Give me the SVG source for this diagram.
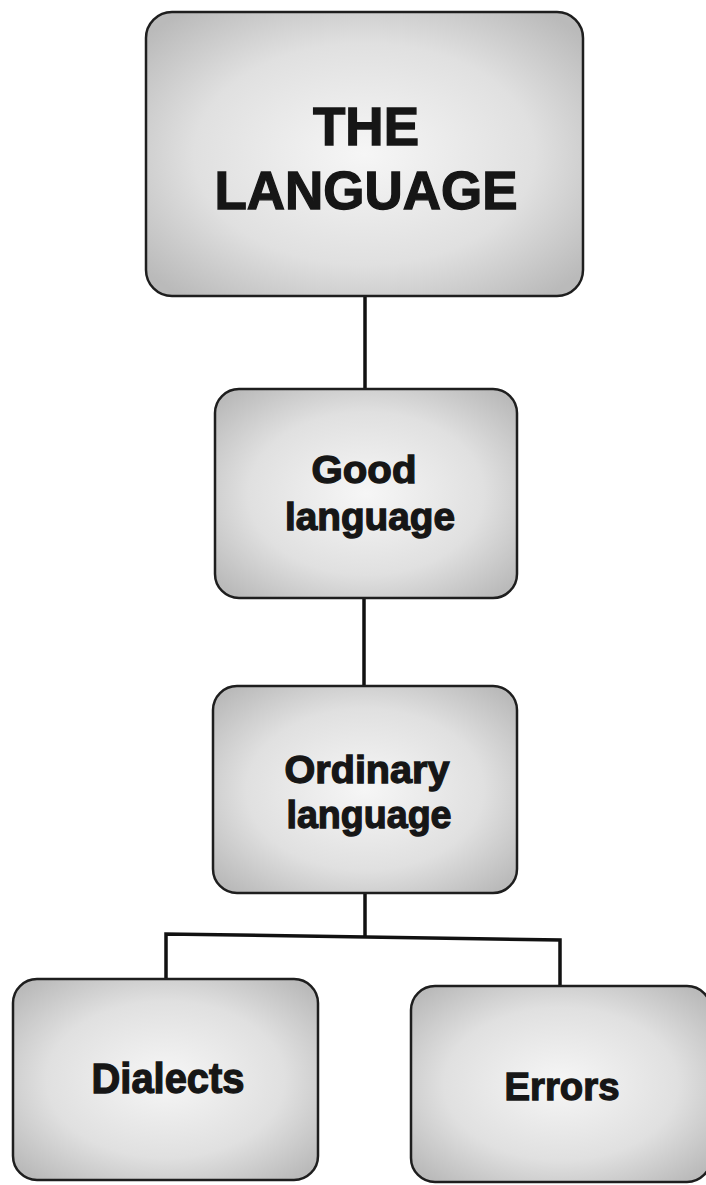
<svg xmlns="http://www.w3.org/2000/svg" width="706" height="1185" viewBox="0 0 706 1185">
<defs>
<radialGradient id="g" cx="50%" cy="50%" r="65%">
<stop offset="0" stop-color="#f6f6f6"/>
<stop offset="0.6" stop-color="#e0e0e0"/>
<stop offset="1" stop-color="#bababa"/>
</radialGradient>
<style>
.box{fill:url(#g);stroke:#1e1e1e;stroke-width:2.5}
.t{font-family:"Liberation Sans",Arial,sans-serif;font-weight:bold;fill:#161616;stroke:#161616;stroke-width:1.3;text-anchor:middle}
.c{fill:none;stroke:#111;stroke-width:3.5}
</style>
</defs>
<rect width="706" height="1185" fill="#fff"/>
<g id="connectors">
<line class="c" x1="365" y1="296" x2="365" y2="390"/>
<line class="c" x1="364" y1="598" x2="364" y2="687"/>
<polyline class="c" points="365,893 365,936"/>
<polyline class="c" points="166,980 166,934 560,940 560,987"/>
</g>
<g id="n-language">
<rect class="box" x="146" y="12" width="437" height="284" rx="26"/>
<text class="t" x="366" y="145" font-size="53">THE</text>
<text class="t" x="366" y="209" font-size="53" textLength="303" lengthAdjust="spacingAndGlyphs">LANGUAGE</text>
</g>
<g id="n-good">
<rect class="box" x="215" y="389" width="302" height="209" rx="24"/>
<text class="t" x="364" y="483" font-size="39" textLength="105" lengthAdjust="spacingAndGlyphs">Good</text>
<text class="t" x="370" y="530" font-size="39" textLength="170" lengthAdjust="spacingAndGlyphs">language</text>
</g>
<g id="n-ordinary">
<rect class="box" x="213" y="686" width="304" height="207" rx="24"/>
<text class="t" x="367" y="783" font-size="39" textLength="165" lengthAdjust="spacingAndGlyphs">Ordinary</text>
<text class="t" x="369" y="828" font-size="39" textLength="165" lengthAdjust="spacingAndGlyphs">language</text>
</g>
<g id="n-dialects">
<rect class="box" x="13" y="979" width="305" height="201" rx="24"/>
<text class="t" x="168" y="1093" font-size="42" textLength="153" lengthAdjust="spacingAndGlyphs">Dialects</text>
</g>
<g id="n-errors">
<rect class="box" x="411" y="986" width="300" height="196" rx="24"/>
<text class="t" x="562" y="1100" font-size="39" textLength="115" lengthAdjust="spacingAndGlyphs">Errors</text>
</g>
</svg>
